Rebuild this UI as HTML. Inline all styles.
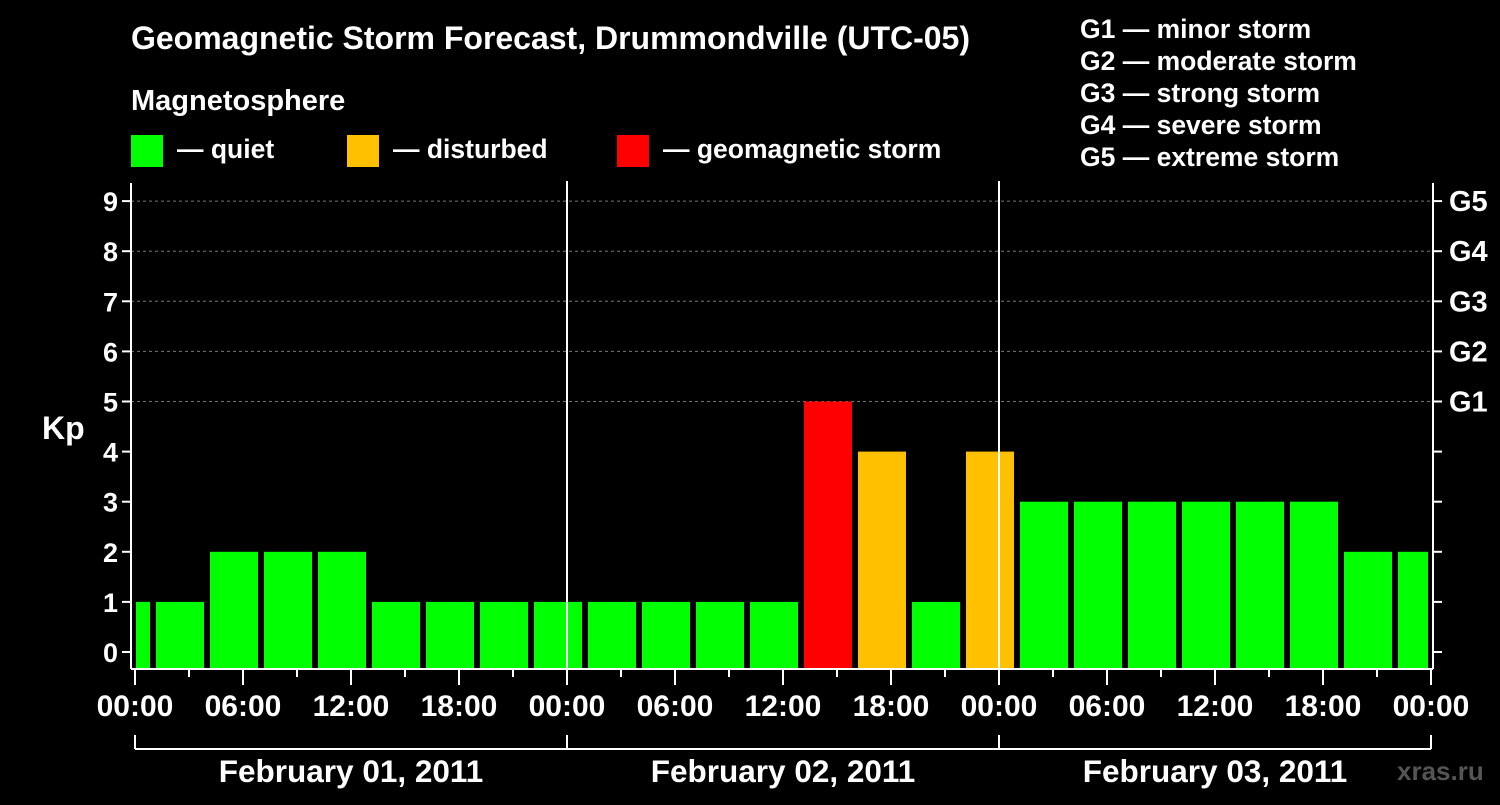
<!DOCTYPE html>
<html><head><meta charset="utf-8"><style>
body{margin:0;background:#000;width:1500px;height:800px;overflow:hidden}
svg text{font-family:"Liberation Sans",Arial,sans-serif;font-weight:bold;fill:#fff}
</style></head><body>
<svg id="c" width="1500" height="800" xmlns="http://www.w3.org/2000/svg">
<text x="131" y="49" font-size="32" textLength="839">Geomagnetic Storm Forecast, Drummondville (UTC-05)</text>
<text x="131" y="110" font-size="29">Magnetosphere</text>
<g><rect x="131" y="135" width="32" height="32" fill="#00ff00"/><text x="177" y="158" font-size="26.5">— quiet</text></g>
<g><rect x="347" y="135" width="32" height="32" fill="#ffc000"/><text x="393" y="158" font-size="26.5">— disturbed</text></g>
<g><rect x="617" y="135" width="32" height="32" fill="#ff0000"/><text x="663" y="158" font-size="26.5">— geomagnetic storm</text></g>
<g font-size="26.5">
<text x="1080" y="38">G1 — minor storm</text><text x="1080" y="70">G2 — moderate storm</text><text x="1080" y="102">G3 — strong storm</text><text x="1080" y="134">G4 — severe storm</text><text x="1080" y="166">G5 — extreme storm</text></g>
<text x="42" y="439" font-size="32">Kp</text>
<text x="1397" y="780" font-size="26" style="fill:#555">xras.ru</text>
<g id="grid"></g><g id="bars"></g><g id="axes"></g>
</svg>
<script>
const kpValues=[1,1,2,2,2,1,1,1,1,1,1,1,1,5,4,1,4,3,3,3,3,3,3,2,2];
const yTicks=[0,1,2,3,4,5,6,7,8,9];
const gLabels=["G1","G2","G3","G4","G5"];
const xTickLabels=["00:00","06:00","12:00","18:00"];
const dayLabels=["February 01, 2011","February 02, 2011","February 03, 2011"];
const NS="http://www.w3.org/2000/svg";
const x0=135,pxH=18,left=131,right=1433,bottom=668;
const xs=h=>x0+h*pxH;
const ys=v=>652-v*50.1;
function mk(p,t,a){const e=document.createElementNS(NS,t);for(const k in a)e.setAttribute(k,a[k]);p.appendChild(e);return e;}
const grid=document.getElementById('grid'),bars=document.getElementById('bars'),axes=document.getElementById('axes');
yTicks.forEach(v=>{
 if(v>=5){const l=mk(grid,'line',{x1:left,x2:right,y1:ys(v),y2:ys(v),stroke:'#777','stroke-dasharray':'3,3'});
 
 }
 mk(axes,'line',{x1:left-9,x2:left,y1:ys(v),y2:ys(v),stroke:'#fff','stroke-width':2});
 mk(axes,'line',{x1:right,x2:right+9,y1:ys(v),y2:ys(v),stroke:'#fff','stroke-width':2});
 const t=mk(axes,'text',{x:left-13,y:ys(v)+10,'font-size':27,'text-anchor':'end'});t.textContent=v;
 
 
});
gLabels.forEach((g,i)=>{const t=mk(axes,'text',{x:right+16,y:ys(5+i)+10,'font-size':29});t.textContent=g;
 
 });
kpValues.forEach((v,i)=>{
 const c=(i-1)*3+2.5;
 let a=xs(c-1.5)+3,b=xs(c+1.5)-3;
 a=Math.max(a,x0+1);b=Math.min(b,xs(72)-3);
 const col=v>=5?'#ff0000':v>=4?'#ffc000':'#00ff00';
 const r=mk(bars,'rect',{x:a,y:ys(v),width:b-a,height:bottom-ys(v),fill:col});
 
 
});
mk(axes,'line',{x1:left,x2:left,y1:183,y2:bottom+1,stroke:'#fff','stroke-width':2});
mk(axes,'line',{x1:right,x2:right,y1:183,y2:bottom+1,stroke:'#fff','stroke-width':2});
mk(axes,'line',{x1:left,x2:right,y1:bottom+1,y2:bottom+1,stroke:'#fff','stroke-width':2});
[24,48].forEach(h=>mk(axes,'line',{x1:xs(h),x2:xs(h),y1:181,y2:bottom,stroke:'#fff','stroke-width':2}));
for(let h=0;h<=72;h+=3){
 const major=h%6===0;
 mk(axes,'line',{x1:xs(h),x2:xs(h),y1:670,y2:major?685:677,stroke:'#fff','stroke-width':2});
 if(major){const t=mk(axes,'text',{x:xs(h),y:716,'font-size':30,'text-anchor':'middle'});t.textContent=xTickLabels[(h%24)/6];
 
 }
}
mk(axes,'line',{x1:xs(0),x2:xs(72),y1:749,y2:749,stroke:'#fff','stroke-width':2});
[0,24,48,72].forEach(h=>mk(axes,'line',{x1:xs(h),x2:xs(h),y1:735,y2:749,stroke:'#fff','stroke-width':2}));
dayLabels.forEach((d,i)=>{const t=mk(axes,'text',{x:xs(i*24+12),y:782,'font-size':31.5,'text-anchor':'middle'});t.textContent=d;
 
 });
</script>
</body></html>
